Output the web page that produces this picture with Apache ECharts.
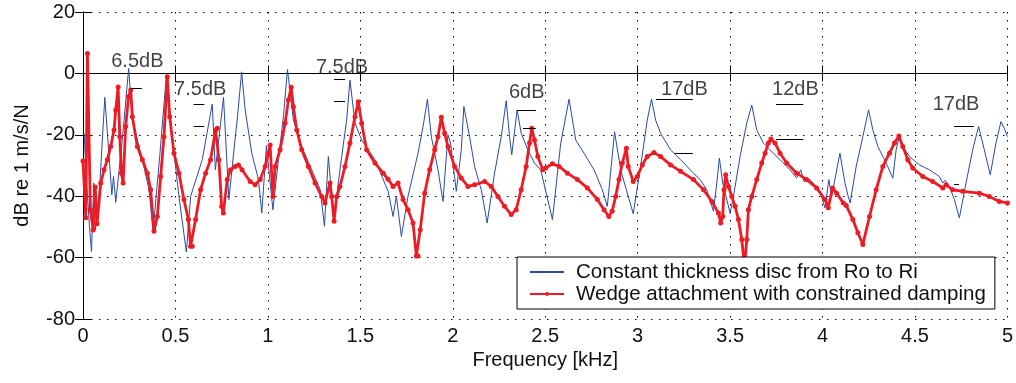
<!DOCTYPE html>
<html><head><meta charset="utf-8">
<script src="https://cdn.jsdelivr.net/npm/echarts@6/dist/echarts.min.js"></script>
<style>html,body{margin:0;padding:0;background:#fff}#c{width:1016px;height:383px}</style>
</head><body><div id="c"></div>
<script>
// ---- tick labels ----
const xTickValues = [0,0.5,1,1.5,2,2.5,3,3.5,4,4.5,5];
const xTickLabels = ['0','0.5','1','1.5','2','2.5','3','3.5','4','4.5','5'];
const yTickValues = [-80,-60,-40,-20,0,20];
const yTickLabels = ['-80','-60','-40','-20','0','20'];

// ---- series names ----
const seriesNames = ['Constant thickness disc from Ro to Ri','Wedge attachment with constrained damping'];

// ---- blue: constant thickness disc [kHz, dB] ----
const constantDisc = [
[0.006,-19.5],[0.020,-36],[0.035,-50],[0.046,-58],[0.058,-35.7],[0.067,-51],[0.078,-46],[0.087,-40],
[0.118,-7.8],[0.156,-39.5],[0.165,-33.6],[0.177,-42],[0.212,-22],[0.247,1.6],[0.267,-15.2],[0.321,-28.1],
[0.357,-37.9],[0.379,-51.4],[0.415,-27],[0.451,-0.6],[0.481,-20],[0.519,-40.1],[0.559,-58.2],[0.582,-40.1],
[0.645,-28.1],[0.699,-10],[0.716,-31.4],[0.760,-7.8],[0.789,-41.1],[0.823,-21.1],[0.834,-15.2],[0.858,0.5],
[0.877,-11.9],[0.913,-26],[0.949,-34.6],[0.967,-45.5],[0.992,-23.5],[1.027,-44.4],[1.057,-28.1],[1.084,-14.1],
[1.106,1.3],[1.138,-15.2],[1.183,-23.8],[1.237,-31.4],[1.283,-37.9],[1.306,-49.8],[1.327,-27.1],[1.356,-47.6],
[1.399,-27.1],[1.426,-15.2],[1.444,-2.2],[1.471,-16.2],[1.507,-21.7],[1.579,-28.1],[1.651,-38.5],[1.677,-46.6],
[1.695,-40],[1.722,-53.1],[1.758,-40],[1.812,-26],[1.839,-17.4],[1.863,-8.4],[1.884,-20.6],[1.920,-31.4],
[1.947,-41.7],[1.974,-20],[1.988,-22.7],[2.019,-38.4],[2.046,-24.9],[2.060,-10.8],[2.091,-20.6],[2.118,-30.3],
[2.154,-37.9],[2.186,-48.7],[2.226,-32.5],[2.262,-20.6],[2.289,-8.9],[2.307,-20.6],[2.319,-26.5],[2.348,-11.9],
[2.370,-19.5],[2.406,-24.9],[2.442,-29.2],[2.476,-31.5],[2.539,-47.6],[2.584,-22.7],[2.629,-8.4],[2.665,-21.7],
[2.710,-26],[2.764,-31.4],[2.809,-37.9],[2.836,-43.3],[2.875,-19],[2.908,-31.4],[2.976,-45.7],[3.016,-30.3],
[3.052,-15.2],[3.075,-8.4],[3.097,-15.2],[3.124,-19.5],[3.178,-24.9],[3.232,-28.1],[3.302,-32.5],[3.338,-34.6],
[3.374,-37.9],[3.410,-44.9],[3.428,-35.7],[3.442,-27.6],[3.460,-35.7],[3.500,-45.5],[3.518,-40.1],[3.554,-27.1],
[3.590,-16.2],[3.617,-10.3],[3.644,-18.4],[3.680,-22.7],[3.716,-24.9],[3.770,-28.1],[3.824,-31.4],[3.860,-34.1],
[3.882,-31.4],[3.900,-35.2],[3.932,-34.6],[3.986,-38.4],[4.013,-43.8],[4.034,-34.6],[4.049,-40.1],[4.094,-26],
[4.121,-35.7],[4.139,-40.1],[4.149,-42.2],[4.182,-30.3],[4.218,-20.6],[4.249,-11.9],[4.272,-18.4],[4.299,-23.8],
[4.344,-29.2],[4.380,-34.1],[4.398,-24.9],[4.413,-21.1],[4.434,-23.8],[4.470,-27.1],[4.524,-29.8],[4.578,-31.4],
[4.632,-33.6],[4.650,-35.7],[4.663,-34.8],[4.686,-36.8],[4.713,-41.1],[4.740,-47.1],[4.776,-35.7],[4.812,-24.9],
[4.844,-17.3],[4.875,-24.9],[4.907,-33],[4.938,-22.7],[4.965,-15.7],[4.983,-17.9],[5.0,-20.6]
];

// ---- red: wedge attachment with constrained damping [kHz, dB] ----
const wedgeDamped = [
[0.0,-28.5],[0.015,-47],[0.024,6.5],[0.040,-44.4],[0.055,-51],[0.066,-37],[0.076,-49],[0.096,-35.7],
[0.114,-31.4],[0.132,-28.1],[0.150,-23.8],[0.168,-18.4],[0.177,-11.9],[0.190,-4.4],[0.199,-20.6],[0.208,-32.5],
[0.217,-35.7],[0.231,-17.3],[0.246,-7.6],[0.258,-5.4],[0.267,-14.1],[0.294,-23.8],[0.321,-28.1],[0.348,-32.5],
[0.366,-37.9],[0.384,-51.4],[0.402,-46.6],[0.420,-33.6],[0.438,-20.6],[0.456,-1.1],[0.469,-14.1],[0.492,-26],
[0.519,-32.5],[0.546,-41.1],[0.570,-47.6],[0.582,-56.3],[0.591,-56.3],[0.609,-47.6],[0.636,-37.9],[0.663,-32.5],
[0.690,-28.1],[0.717,-18.4],[0.726,-17.9],[0.735,-28.1],[0.750,-43.3],[0.759,-45.5],[0.780,-34.6],[0.798,-31.4],
[0.823,-30.3],[0.841,-29.8],[0.860,-31.4],[0.904,-35.2],[0.931,-36.3],[0.958,-34.6],[0.985,-30.3],[1.003,-26],
[1.012,-23.3],[1.027,-40.1],[1.039,-30.3],[1.066,-24.9],[1.093,-16.2],[1.111,-8.7],[1.126,-4.5],[1.138,-10.9],
[1.156,-18.4],[1.183,-24.9],[1.219,-30.3],[1.255,-35.7],[1.291,-40.1],[1.309,-42.2],[1.336,-35.7],[1.345,-40.1],
[1.358,-48.2],[1.372,-40.1],[1.390,-36.8],[1.417,-30.3],[1.444,-22.7],[1.471,-14.1],[1.489,-9.2],[1.507,-16.2],
[1.534,-24.9],[1.579,-29.2],[1.624,-32.5],[1.650,-34.5],[1.677,-36.8],[1.704,-35.7],[1.731,-41.1],[1.758,-44.4],
[1.785,-48.7],[1.803,-59.5],[1.812,-59.5],[1.824,-50.9],[1.848,-39],[1.875,-31.4],[1.902,-24.9],[1.920,-20.6],
[1.938,-14.3],[1.956,-19.5],[1.974,-23.8],[2.010,-30.3],[2.046,-34.1],[2.082,-36.8],[2.118,-36.3],[2.172,-35.2],
[2.208,-36.8],[2.244,-40.1],[2.280,-43.3],[2.316,-46],[2.343,-44.4],[2.370,-37.9],[2.397,-30.3],[2.415,-22.7],
[2.427,-17.9],[2.442,-21.7],[2.460,-27.1],[2.487,-31.4],[2.503,-30.8],[2.539,-29.4],[2.575,-30.3],[2.620,-32.5],
[2.674,-34.6],[2.728,-37.3],[2.782,-41.1],[2.818,-44.4],[2.844,-46.6],[2.862,-44.9],[2.881,-40.1],[2.899,-34.6],
[2.917,-29.2],[2.939,-24.4],[2.949,-30.3],[2.976,-35.2],[2.998,-33.6],[3.025,-29.8],[3.052,-27.1],[3.088,-25.8],
[3.124,-27.1],[3.178,-29.8],[3.232,-31.9],[3.302,-34.6],[3.356,-37.9],[3.401,-41.7],[3.437,-45.5],[3.449,-48.7],
[3.460,-46.6],[3.467,-37.9],[3.476,-33],[3.491,-36.8],[3.509,-40.1],[3.527,-43.3],[3.545,-47.6],[3.563,-54.1],
[3.578,-63],[3.590,-54.1],[3.599,-44.4],[3.617,-40.1],[3.644,-34.6],[3.671,-29.2],[3.689,-26],[3.707,-22.7],
[3.721,-21.4],[3.743,-22.7],[3.770,-26],[3.806,-29.2],[3.860,-32.5],[3.914,-34.6],[3.968,-37.3],[4.013,-41.1],
[4.031,-43.8],[4.054,-37.3],[4.076,-39],[4.112,-42.2],[4.128,-43],[4.164,-47.6],[4.191,-51.9],[4.218,-55.7],
[4.254,-46.6],[4.290,-37.9],[4.326,-30.3],[4.362,-26],[4.389,-22.7],[4.413,-20.4],[4.434,-23.8],[4.461,-28.1],
[4.488,-30.8],[4.542,-33.6],[4.596,-35.2],[4.650,-37.3],[4.668,-36.3],[4.704,-37.9],[4.758,-38.4],[4.848,-39],
[4.902,-40.1],[4.956,-41.7],[5.0,-42.2]
];

// ---- annotations: [kHz, dB, text] and dashes [kHz start, kHz end, dB] ----
const annotTexts = [
[0.294,4.0,'6.5dB'],[0.634,-5.1,'7.5dB'],[1.401,2.0,'7.5dB'],[2.400,-6.1,'6dB'],
[3.253,-5.1,'17dB'],[3.853,-5.1,'12dB'],[4.722,-10,'17dB']
];
const annotDashes = [
[0.258,0.318,-4.9],
[0.598,0.656,-10],[0.598,0.656,-17.3],
[1.358,1.417,-2.0],[1.358,1.417,-9.2],
[2.348,2.449,-11.9],[2.380,2.449,-17.9],
[3.100,3.298,-8.4],[3.199,3.298,-26],
[3.748,3.896,-10],[3.748,3.896,-21.4],
[4.711,4.819,-17.3],[4.711,4.738,-36]
];

const FONT = 'Liberation Sans, Arial, Helvetica, sans-serif';
const TXT = '#111';
const BLUE = '#2a4ba6';
const RED = '#ed1c24';
const FS = 20;

const chart = echarts.init(document.getElementById('c'), null, {renderer:'canvas'});
const fmtX = v => { const i = xTickValues.findIndex(t => Math.abs(t - v) < 1e-9); return i >= 0 ? xTickLabels[i] : ''; };
const fmtY = v => { const i = yTickValues.findIndex(t => Math.abs(t - v) < 1e-9); return i >= 0 ? yTickLabels[i] : ''; };
const dotted = {color:'#000', width:1, type:[1.5,6.5]};
const axLine = {show:true, lineStyle:{color:'#000', width:1}};
const tickIn = {show:true, inside:true, length:8, lineStyle:{color:'#000', width:1}};

chart.setOption({
  animation:false,
  backgroundColor:'#fff',
  textStyle:{fontFamily:FONT},
  grid:{left:83, right:8, top:12, bottom:64, containLabel:false},
  legend:{
    data:[{name:seriesNames[0], itemStyle:{opacity:0}}, {name:seriesNames[1]}],
    orient:'vertical', left:517, top:257,
    backgroundColor:'#fff', borderColor:'#000', borderWidth:1, borderRadius:0,
    padding:[4,9,4,12], itemGap:0, itemWidth:34, itemHeight:5,
    textStyle:{fontSize:20.5, color:TXT, fontFamily:FONT, lineHeight:22, padding:[0,0,0,7]}
  },
  xAxis:[
    {type:'value', position:'bottom', min:0, max:5, interval:0.5,
     axisLine:axLine, axisTick:tickIn,
     axisLabel:{formatter:fmtX, fontSize:FS, color:TXT, margin:7, fontFamily:FONT},
     splitLine:{show:true, lineStyle:dotted},
     name:'Frequency [kHz]', nameLocation:'middle', nameGap:26,
     nameTextStyle:{fontSize:FS, color:TXT, fontFamily:FONT}},
    {type:'value', position:'top', min:0, max:5, interval:0.5,
     axisLine:axLine, axisTick:tickIn, axisLabel:{show:false}, splitLine:{show:false}}
  ],
  yAxis:[
    {type:'value', position:'left', min:-80, max:20, interval:20,
     axisLine:axLine, axisTick:tickIn,
     axisLabel:{formatter:fmtY, fontSize:FS, color:TXT, margin:8, fontFamily:FONT},
     splitLine:{show:true, lineStyle:dotted},
     name:'dB re 1 m/s/N', nameLocation:'middle', nameGap:51,
     nameTextStyle:{fontSize:FS, color:TXT, fontFamily:FONT}},
    {type:'value', position:'right', min:-80, max:20, interval:20,
     axisLine:axLine, axisTick:tickIn, axisLabel:{show:false}, splitLine:{show:false}}
  ],
  series:[
    {name:seriesNames[0], type:'line', data:constantDisc, symbol:'none', showSymbol:false,
     lineStyle:{color:BLUE, width:1}, itemStyle:{color:BLUE}, z:2, silent:true},
    {name:seriesNames[1], type:'line', data:wedgeDamped, symbol:'circle', symbolSize:5, showSymbol:true,
     lineStyle:{color:RED, width:2.8}, itemStyle:{color:RED}, z:3, silent:true},
    {name:'annotations', type:'scatter', data:annotTexts, symbolSize:0, silent:true, z:4,
     label:{show:true, position:'inside', formatter:p => p.data[2], fontSize:FS, color:TXT, fontFamily:FONT},
     markLine:{silent:true, symbol:['none','none'], label:{show:false},
       lineStyle:{color:'#000', width:1, type:'solid'},
       data: annotDashes.map(d => [{coord:[d[0], d[2]]}, {coord:[d[1], d[2]]}])}}
  ]
});
</script>
</body></html>
